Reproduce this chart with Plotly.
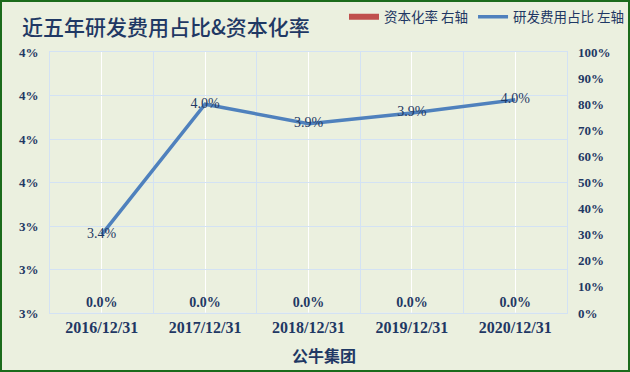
import plotly.graph_objects as go

categories = ["2016/12/31", "2017/12/31", "2018/12/31", "2019/12/31", "2020/12/31"]
rd_ratio = [0.0336, 0.0396, 0.0387, 0.0392, 0.0398]      # 研发费用占比 (left axis)
cap_rate = [0.0, 0.0, 0.0, 0.0, 0.0]                      # 资本化率 (right axis)

title_text = "近五年研发费用占比&资本化率"
company = "公牛集团"
bar_name = "资本化率 右轴"
line_name = "研发费用占比 左轴"

navy = "#1F3864"
bg = "#EBF0DF"
grid_blue = "#D3E2F4"
serif = "Liberation Serif, Times New Roman, Noto Sans CJK SC, serif"
cjk = "Noto Sans CJK SC, sans-serif"
x_range = [-0.5, len(categories) - 0.5]

fig = go.Figure()

fig.add_trace(go.Bar(
    x=categories, y=cap_rate, xaxis="x2", yaxis="y2",
    marker_color="#C0504D", showlegend=False, name=bar_name,
    texttemplate="%{y:.1%}", textposition="outside", cliponaxis=False,
    textfont=dict(family=serif, size=14, color=navy, weight="bold"),
))
# legend proxy for the bar series (wide red swatch)
fig.add_trace(go.Scatter(
    x=[None], y=[None], mode="lines", name=bar_name,
    line=dict(color="#C0504D", width=6), xaxis="x2", yaxis="y2",
))
fig.add_trace(go.Scatter(
    x=categories, y=rd_ratio, mode="lines+text", name=line_name,
    line=dict(color="#4F81BD", width=3.5),
    texttemplate="%{y:.1%}", textposition="middle center",
    textfont=dict(family=serif, size=14, color=navy),
    cliponaxis=False,
))

fig.update_layout(
    width=630, height=372,
    margin=dict(l=50, r=63, t=52, b=59),
    paper_bgcolor=bg, plot_bgcolor=bg,
    title=dict(text=title_text, x=22/630, xanchor="left", y=1-28/372, yanchor="middle",
               font=dict(family=cjk, size=21, color=navy, weight=500)),
    legend=dict(orientation="h", xref="container", yref="container",
                x=344/630, xanchor="left", y=1-17/372, yanchor="middle",
                font=dict(family=cjk, size=13.5, color=navy),
                bgcolor="rgba(0,0,0,0)", itemwidth=30, tracegroupgap=0),
    xaxis=dict(type="category", categoryorder="array", categoryarray=categories,
               range=x_range,
               showgrid=True, gridcolor="#FFFFFF", gridwidth=1,
               showline=True, linecolor=grid_blue, mirror=True,
               ticks="", tickfont=dict(family=serif, size=16, color=navy, weight="bold"),
               zeroline=False),
    xaxis2=dict(type="category", categoryorder="array", categoryarray=categories,
                range=x_range,
                overlaying="x", side="bottom", showticklabels=False,
                tickson="boundaries", showgrid=True, gridcolor=grid_blue, ticks="",
                zeroline=False),
    yaxis=dict(range=[0.030, 0.042], dtick=0.002, tickformat=".0%",
               showgrid=True, gridcolor=grid_blue, showline=True, linecolor=grid_blue,
               mirror=True, zeroline=False, ticks="", ticklabelstandoff=8,
               tickfont=dict(family=serif, size=13, color=navy, weight="bold")),
    yaxis2=dict(range=[0, 1], dtick=0.1, tickformat=".0%", overlaying="y", side="right",
                showgrid=False, zeroline=False, ticks="", ticklabelstandoff=10,
                tickfont=dict(family=serif, size=13, color=navy, weight="bold")),
    annotations=[dict(text="<b>" + company + "</b>", xref="paper", yref="paper",
                      x=(324-50)/517, y=(313-355)/261, xanchor="center", yanchor="middle",
                      showarrow=False, font=dict(family=cjk, size=16, color=navy))],
    shapes=[dict(type="rect", xref="paper", yref="paper",
                 x0=(1-50)/517, x1=(629-50)/517, y0=(313-371)/261, y1=(313-1)/261,
                 line=dict(color="#1B6B1B", width=2), fillcolor="rgba(0,0,0,0)", layer="above")],
)

fig.write_html("out.html")
